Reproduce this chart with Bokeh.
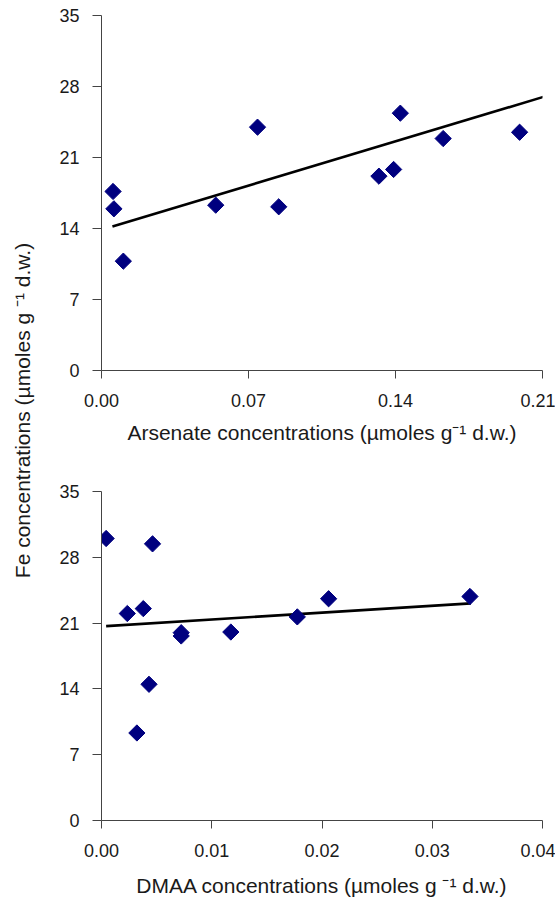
import math
from bokeh.plotting import figure
from bokeh.layouts import row, column
from bokeh.models import Range1d, FixedTicker, Label
from bokeh.embed import file_html
from bokeh.resources import INLINE

# ---- data: Arsenate vs Fe ----
arsenate_x = [0.0055, 0.0059, 0.0104, 0.0544, 0.0743, 0.0844, 0.1321, 0.1391, 0.1423, 0.1627, 0.1991]
arsenate_fe = [17.65, 15.94, 10.78, 16.30, 23.99, 16.14, 19.16, 19.82, 25.37, 22.87, 23.49]
arsenate_fit_x = [0.0052, 0.2108]
arsenate_fit_y = [14.2, 27.0]
arsenate_ticks = [0.0, 0.07, 0.14, 0.21]

# ---- data: DMAA vs Fe ----
dmaa_x = [0.00042, 0.00463, 0.00234, 0.00379, 0.00723, 0.00723, 0.01173, 0.01776, 0.0206, 0.03342, 0.00431, 0.00321]
dmaa_fe = [30.0, 29.43, 22.02, 22.54, 19.98, 19.63, 20.05, 21.66, 23.59, 23.83, 14.49, 9.31]
dmaa_fit_x = [0.00042, 0.0335]
dmaa_fit_y = [20.68, 23.1]
dmaa_ticks = [0.0, 0.01, 0.02, 0.03, 0.04]

fe_ticks = [0, 7, 14, 21, 28, 35]

FONT = "Liberation Sans"
TXT = "#1a1a1a"
AX = "#444444"
NAVY = "#00007F"


def style(p, xticks, fmt, xl_standoff, xtitle_standoff):
    p.xgrid.visible = False
    p.ygrid.visible = False
    p.outline_line_color = None
    p.background_fill_color = "white"
    p.border_fill_color = "white"
    for ax in (p.xaxis[0], p.yaxis[0]):
        ax.axis_line_color = AX
        ax.axis_line_width = 1
        ax.major_tick_line_color = AX
        ax.major_tick_in = 0
        ax.minor_tick_line_color = None
        ax.major_label_text_font = FONT
        ax.major_label_text_color = TXT
        ax.axis_label_text_font = FONT
        ax.axis_label_text_color = TXT
        ax.axis_label_text_font_style = "normal"
    p.xaxis[0].ticker = FixedTicker(ticks=xticks)
    p.xaxis[0].major_label_overrides = {t: fmt.format(t) for t in xticks}
    p.xaxis[0].major_tick_out = 8
    p.xaxis[0].major_label_standoff = xl_standoff
    p.xaxis[0].major_label_text_font_size = "18px"
    p.xaxis[0].axis_label_text_font_size = "21px"
    p.xaxis[0].axis_label_standoff = xtitle_standoff
    p.yaxis[0].ticker = FixedTicker(ticks=fe_ticks)
    p.yaxis[0].major_tick_out = 9
    p.yaxis[0].major_label_standoff = 13
    p.yaxis[0].major_label_text_font_size = "18px"


TITLE_W = 38
P_W = 517

# ---- top chart ----
p1 = figure(width=P_W, height=455, output_backend="svg", toolbar_location=None,
            x_range=Range1d(0, 0.21), y_range=Range1d(0, 35),
            min_border_left=60, min_border_right=13, min_border_top=15, min_border_bottom=85)
p1.xaxis.axis_label = "Arsenate concentrations (µmoles g⁻¹ d.w.)"
style(p1, arsenate_ticks, "{:.2f}", 15, 11)
p1.line(arsenate_fit_x, arsenate_fit_y, line_color="black", line_width=2.6)
p1.scatter(arsenate_x, arsenate_fe, marker="square", angle=math.pi / 4, size=11.5,
           fill_color=NAVY, line_color=NAVY)

# ---- bottom chart ----
p2 = figure(width=P_W, height=444, output_backend="svg", toolbar_location=None,
            x_range=Range1d(0, 0.04), y_range=Range1d(0, 35),
            min_border_left=63, min_border_right=13, min_border_top=36, min_border_bottom=75)
p2.xaxis.axis_label = "DMAA concentrations (µmoles g ⁻¹ d.w.)"
style(p2, dmaa_ticks, "{:.2f}", 15, 14)
p2.line(dmaa_fit_x, dmaa_fit_y, line_color="black", line_width=2.6)
p2.scatter(dmaa_x, dmaa_fe, marker="square", angle=math.pi / 4, size=11.5,
           fill_color=NAVY, line_color=NAVY)

# ---- shared y title ----
total_h = 455 + 444
pl = figure(width=TITLE_W, height=total_h, output_backend="svg", toolbar_location=None,
            x_range=Range1d(0, TITLE_W), y_range=Range1d(0, total_h),
            x_axis_location=None, y_axis_location=None,
            min_border=0, min_border_left=0, min_border_right=0, min_border_top=0, min_border_bottom=0)
pl.xgrid.visible = False
pl.ygrid.visible = False
pl.outline_line_color = None
pl.add_layout(Label(x=22, y=total_h - 410, text="Fe concentrations (µmoles g ⁻¹ d.w.)",
                    angle=math.pi / 2, text_align="center", text_baseline="middle",
                    text_font=FONT, text_font_size="21px", text_color=TXT))

layout = row(pl, column(p1, p2, spacing=0), spacing=0)

open("out.html", "w").write(file_html(layout, INLINE))
